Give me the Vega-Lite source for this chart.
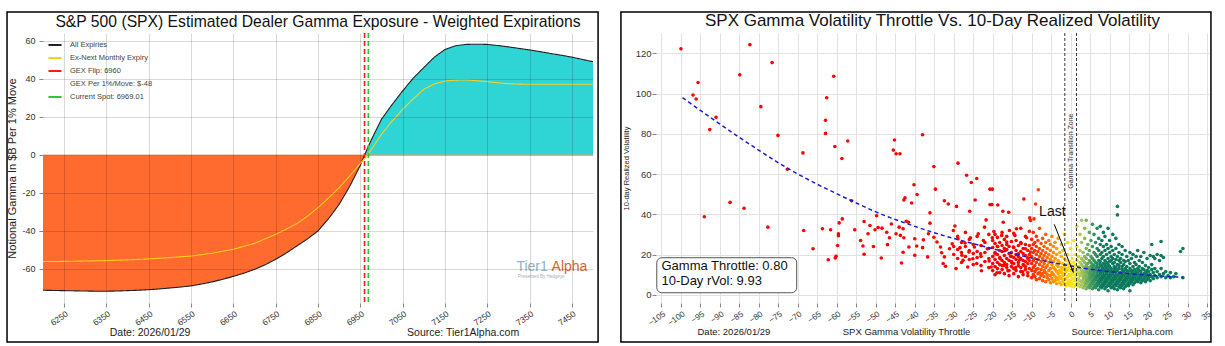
{
"$schema": "https://vega.github.io/schema/vega-lite/v6.json",
"background": "white",
"padding": {"left": 6, "top": 11, "right": 14, "bottom": 5},
"bounds": "flush",
"spacing": 63,
"config": {"font": "Liberation Sans", "view": {"stroke": null}, "axis": {"labelFont": "Liberation Sans", "titleFont": "Liberation Sans", "titleFontWeight": "normal", "labelColor": "#333", "titleColor": "#222", "tickColor": "#888", "domain": false, "labelOverlap": false}},
"datasets": {
"curves": [
{"strike":6200,"series":"All Expiries","gex":-71.2},{"strike":6225,"series":"All Expiries","gex":-71.3},{"strike":6250,"series":"All Expiries","gex":-71.4},{"strike":6275,"series":"All Expiries","gex":-71.5},{"strike":6300,"series":"All Expiries","gex":-71.6},{"strike":6325,"series":"All Expiries","gex":-71.7},{"strike":6350,"series":"All Expiries","gex":-71.7},{"strike":6375,"series":"All Expiries","gex":-71.6},{"strike":6400,"series":"All Expiries","gex":-71.4},{"strike":6425,"series":"All Expiries","gex":-71.2},{"strike":6450,"series":"All Expiries","gex":-70.9},{"strike":6475,"series":"All Expiries","gex":-70.5},{"strike":6500,"series":"All Expiries","gex":-70.0},{"strike":6525,"series":"All Expiries","gex":-69.5},{"strike":6550,"series":"All Expiries","gex":-68.9},{"strike":6575,"series":"All Expiries","gex":-67.9},{"strike":6600,"series":"All Expiries","gex":-66.8},{"strike":6625,"series":"All Expiries","gex":-65.4},{"strike":6650,"series":"All Expiries","gex":-63.9},{"strike":6675,"series":"All Expiries","gex":-62.2},{"strike":6700,"series":"All Expiries","gex":-60.2},{"strike":6725,"series":"All Expiries","gex":-57.8},{"strike":6750,"series":"All Expiries","gex":-54.9},{"strike":6775,"series":"All Expiries","gex":-51.6},{"strike":6800,"series":"All Expiries","gex":-47.9},{"strike":6825,"series":"All Expiries","gex":-44.2},{"strike":6850,"series":"All Expiries","gex":-40.0},{"strike":6875,"series":"All Expiries","gex":-33.5},{"strike":6900,"series":"All Expiries","gex":-26.0},{"strike":6925,"series":"All Expiries","gex":-16.5},{"strike":6950,"series":"All Expiries","gex":-5.5},{"strike":6960,"series":"All Expiries","gex":0},{"strike":6975,"series":"All Expiries","gex":7.5},{"strike":7000,"series":"All Expiries","gex":18.8},{"strike":7025,"series":"All Expiries","gex":26.5},{"strike":7050,"series":"All Expiries","gex":33.7},{"strike":7075,"series":"All Expiries","gex":40.4},{"strike":7100,"series":"All Expiries","gex":46.0},{"strike":7125,"series":"All Expiries","gex":51.5},{"strike":7150,"series":"All Expiries","gex":55.5},{"strike":7175,"series":"All Expiries","gex":57.5},{"strike":7200,"series":"All Expiries","gex":58.2},{"strike":7225,"series":"All Expiries","gex":58.3},{"strike":7250,"series":"All Expiries","gex":58.2},{"strike":7275,"series":"All Expiries","gex":57.6},{"strike":7300,"series":"All Expiries","gex":56.9},{"strike":7325,"series":"All Expiries","gex":56.1},{"strike":7350,"series":"All Expiries","gex":55.3},{"strike":7375,"series":"All Expiries","gex":54.4},{"strike":7400,"series":"All Expiries","gex":53.4},{"strike":7425,"series":"All Expiries","gex":52.5},{"strike":7450,"series":"All Expiries","gex":51.5},{"strike":7475,"series":"All Expiries","gex":50.3},{"strike":7500,"series":"All Expiries","gex":49.1},
{"strike":6200,"series":"Ex-Next Monthly Expiry","gex":-56.1},{"strike":6250,"series":"Ex-Next Monthly Expiry","gex":-56.0},{"strike":6300,"series":"Ex-Next Monthly Expiry","gex":-55.8},{"strike":6350,"series":"Ex-Next Monthly Expiry","gex":-55.6},{"strike":6400,"series":"Ex-Next Monthly Expiry","gex":-55.2},{"strike":6450,"series":"Ex-Next Monthly Expiry","gex":-54.7},{"strike":6500,"series":"Ex-Next Monthly Expiry","gex":-54.0},{"strike":6550,"series":"Ex-Next Monthly Expiry","gex":-53.2},{"strike":6600,"series":"Ex-Next Monthly Expiry","gex":-51.7},{"strike":6650,"series":"Ex-Next Monthly Expiry","gex":-49.6},{"strike":6700,"series":"Ex-Next Monthly Expiry","gex":-46.5},{"strike":6750,"series":"Ex-Next Monthly Expiry","gex":-41.8},{"strike":6775,"series":"Ex-Next Monthly Expiry","gex":-39.0},{"strike":6800,"series":"Ex-Next Monthly Expiry","gex":-36.1},{"strike":6825,"series":"Ex-Next Monthly Expiry","gex":-32.2},{"strike":6850,"series":"Ex-Next Monthly Expiry","gex":-27.7},{"strike":6875,"series":"Ex-Next Monthly Expiry","gex":-22.6},{"strike":6900,"series":"Ex-Next Monthly Expiry","gex":-17.2},{"strike":6925,"series":"Ex-Next Monthly Expiry","gex":-11.0},{"strike":6950,"series":"Ex-Next Monthly Expiry","gex":-4.5},{"strike":6960,"series":"Ex-Next Monthly Expiry","gex":-2.0},{"strike":6975,"series":"Ex-Next Monthly Expiry","gex":2.5},{"strike":7000,"series":"Ex-Next Monthly Expiry","gex":10.9},{"strike":7025,"series":"Ex-Next Monthly Expiry","gex":17.8},{"strike":7050,"series":"Ex-Next Monthly Expiry","gex":24.0},{"strike":7075,"series":"Ex-Next Monthly Expiry","gex":29.5},{"strike":7100,"series":"Ex-Next Monthly Expiry","gex":34.6},{"strike":7125,"series":"Ex-Next Monthly Expiry","gex":37.4},{"strike":7150,"series":"Ex-Next Monthly Expiry","gex":38.9},{"strike":7175,"series":"Ex-Next Monthly Expiry","gex":39.4},{"strike":7200,"series":"Ex-Next Monthly Expiry","gex":39.5},{"strike":7225,"series":"Ex-Next Monthly Expiry","gex":39.1},{"strike":7250,"series":"Ex-Next Monthly Expiry","gex":38.6},{"strike":7275,"series":"Ex-Next Monthly Expiry","gex":38.0},{"strike":7300,"series":"Ex-Next Monthly Expiry","gex":37.5},{"strike":7325,"series":"Ex-Next Monthly Expiry","gex":37.3},{"strike":7350,"series":"Ex-Next Monthly Expiry","gex":37.2},{"strike":7400,"series":"Ex-Next Monthly Expiry","gex":37.2},{"strike":7450,"series":"Ex-Next Monthly Expiry","gex":37.2},{"strike":7500,"series":"Ex-Next Monthly Expiry","gex":37.2}
],
"levels": [{"level":6960,"series":"GEX Flip: 6960"},{"level":6969.01,"series":"Current Spot: 6969.01"}],
"zone": [{"edge":-1.5},{"edge":1.5}],
"fit": [
{"thr":-99.6,"vol":98.0},{"thr":-95,"vol":91.6},{"thr":-90,"vol":84.8},{"thr":-85,"vol":78.2},{"thr":-80,"vol":71.8},{"thr":-75,"vol":65.6},{"thr":-70,"vol":60.0},{"thr":-65,"vol":54.9},{"thr":-60,"vol":50.2},{"thr":-55,"vol":45.6},{"thr":-50,"vol":41.2},{"thr":-45,"vol":37.4},{"thr":-40,"vol":34.0},{"thr":-35,"vol":30.8},{"thr":-30,"vol":28.0},{"thr":-25,"vol":25.4},{"thr":-20,"vol":22.9},{"thr":-15,"vol":20.5},{"thr":-10,"vol":18.2},{"thr":-5,"vol":16.1},{"thr":0,"vol":14.3},{"thr":5,"vol":12.7},{"thr":10,"vol":11.5},{"thr":15,"vol":10.5},{"thr":20,"vol":9.7},{"thr":25,"vol":9.1},{"thr":28.8,"vol":8.6}
],
"pts": [
{"thr":-100,"vol":122.3},{"thr":-82.3,"vol":124.3},{"thr":-76.6,"vol":115.4},{"thr":-84.9,"vol":109.3},{"thr":-60.8,"vol":108.6},{"thr":-95.6,"vol":105.5},{"thr":-96.9,"vol":99.3},{"thr":-96.1,"vol":97.3},{"thr":-62.6,"vol":97.9},{"thr":-79.5,"vol":93.5},{"thr":-91,"vol":88.2},{"thr":-62.9,"vol":86.7},{"thr":-92.6,"vol":82.1},{"thr":-75.1,"vol":79.2},{"thr":-62.9,"vol":80.2},{"thr":-38,"vol":79.5},{"thr":-60.5,"vol":73.7},{"thr":-57.2,"vol":76.4},{"thr":-45.2,"vol":76.9},{"thr":-45.5,"vol":71.9},{"thr":-44.8,"vol":70.1},{"thr":-43.8,"vol":70.1},{"thr":-68.7,"vol":70.5},{"thr":-58.7,"vol":67.7},{"thr":-28.9,"vol":65.4},{"thr":-72.7,"vol":62.4},{"thr":-35.1,"vol":63.7},{"thr":-26.7,"vol":59.4},{"thr":-24.1,"vol":57.8},{"thr":-25.5,"vol":55.8},{"thr":-40.2,"vol":54.7},{"thr":-34.7,"vol":52.5},{"thr":-20.7,"vol":52.5},{"thr":-20.1,"vol":52.5},{"thr":-8.3,"vol":52.2},{"thr":-39.4,"vol":49.8},{"thr":-42.5,"vol":48.2},{"thr":-42.8,"vol":47.1},{"thr":-24.5,"vol":47.1},{"thr":-12,"vol":47.6},{"thr":-56.2,"vol":46.7},{"thr":-32.4,"vol":46.7},{"thr":-87.4,"vol":45.9},{"thr":-40.8,"vol":45.6},{"thr":-31.4,"vol":45.1},{"thr":-20.7,"vol":44.8},{"thr":-20.2,"vol":44.8},{"thr":-18.7,"vol":44.6},{"thr":-9,"vol":45.1},{"thr":-29.3,"vol":43.9},{"thr":-83.8,"vol":43},{"thr":12,"vol":43.9},{"thr":12,"vol":39.7},{"thr":-94,"vol":38.8},{"thr":-17.4,"vol":41.5},{"thr":-15.9,"vol":41},{"thr":-25.9,"vol":41.5},{"thr":-36.1,"vol":40.7},{"thr":-10.5,"vol":38.2},{"thr":-9.4,"vol":37.7},{"thr":-10.3,"vol":36.9},{"thr":-49.8,"vol":39.3},{"thr":-58.6,"vol":37.7},{"thr":-59.4,"vol":35.7},{"thr":-77.7,"vol":33.6},{"thr":-68.5,"vol":31.9},{"thr":-63.7,"vol":32.8},{"thr":-61.6,"vol":32.3},{"thr":-55.4,"vol":32.3},{"thr":-59.6,"vol":30.3},{"thr":-59.6,"vol":29.3},{"thr":-53.9,"vol":27},{"thr":-59.8,"vol":24.5},{"thr":-66.1,"vol":22.9},{"thr":-62.2,"vol":17.4},{"thr":-60.2,"vol":19.1},{"thr":-60.4,"vol":18.3},{"thr":-53,"vol":20.1},{"thr":-53.3,"vol":24.2},{"thr":-50.6,"vol":24},{"thr":-48.6,"vol":18.3},{"thr":-43.4,"vol":15.8},{"thr":-43,"vol":21.1},{"thr":-40,"vol":19.6},{"thr":-36.7,"vol":18.8},{"thr":-53,"vol":36.4},{"thr":-51.5,"vol":34.4},{"thr":-50.2,"vol":32.3},{"thr":-49.4,"vol":33.4},{"thr":-48.4,"vol":33.1},{"thr":-52,"vol":30.3},{"thr":-47.2,"vol":31.1},{"thr":-46,"vol":35.2},{"thr":-46.5,"vol":28.3},{"thr":-44.8,"vol":30.3},{"thr":-44,"vol":33.6},{"thr":-43,"vol":32.8},{"thr":-42.2,"vol":36.5},{"thr":-41.6,"vol":36},{"thr":-47,"vol":24.9},{"thr":-43.7,"vol":29.5},{"thr":-42.8,"vol":28.3},{"thr":-41.5,"vol":23.7},{"thr":-40,"vol":27.8},{"thr":-39.5,"vol":24.2},{"thr":-38,"vol":23.4},{"thr":-37.8,"vol":27.3},{"thr":-36.5,"vol":30.3},{"thr":-36.1,"vol":35.6},{"thr":-35.1,"vol":28.6},{"thr":-34.3,"vol":26.2},{"thr":-33.4,"vol":23.7},{"thr":-33.1,"vol":20.9},{"thr":-32.4,"vol":18.8},{"thr":-32.7,"vol":15.5},{"thr":-32.1,"vol":14.2},{"thr":-31.1,"vol":22.9},{"thr":-30.4,"vol":25.3},{"thr":-30.1,"vol":31.9},{"thr":-29.7,"vol":34.2},{"thr":-29.4,"vol":13},{"thr":-28.9,"vol":27.8},{"thr":-28.4,"vol":23.4},{"thr":-27.9,"vol":19.6},{"thr":-27.6,"vol":17.1},{"thr":-27.1,"vol":25.7},{"thr":-26.4,"vol":13.8},{"thr":-26.1,"vol":21.2},{"thr":-25.7,"vol":28.3},{"thr":-25.1,"vol":17.9},{"thr":-24.7,"vol":23.7},{"thr":-24.1,"vol":15.5},{"thr":-23.7,"vol":30.3},{"thr":-23.1,"vol":20.4},{"thr":-22.9,"vol":11.9},{"thr":-22.4,"vol":27},{"thr":-22.1,"vol":33.6},{"thr":-21.7,"vol":37.2},{"thr":-21.4,"vol":22.9},{"thr":-20.9,"vol":16.8},{"thr":-20.4,"vol":13.8},{"thr":-20.1,"vol":28.3},{"thr":-19.7,"vol":31.4},{"thr":-19.4,"vol":20.4},{"thr":-18.9,"vol":10.9},{"thr":-18.7,"vol":24},{"thr":-18.1,"vol":17.9},{"thr":-17.7,"vol":29.5},{"thr":-17.3,"vol":36},{"thr":-17.1,"vol":14.6},{"thr":-16.7,"vol":22.1},{"thr":-16.4,"vol":26.2},{"thr":-16.1,"vol":11.9},{"thr":-15.7,"vol":31.9},{"thr":-15.4,"vol":19.1},{"thr":-15.1,"vol":15.8},{"thr":-14.7,"vol":23.7},{"thr":-14.3,"vol":29.5},{"thr":-14.1,"vol":13.5},{"thr":-13.9,"vol":32.8},{"thr":-13.4,"vol":20.4},{"thr":-13.1,"vol":17.4},{"thr":-12.7,"vol":25.5},{"thr":-12.3,"vol":11.4},{"thr":-12,"vol":14.6},{"thr":-11.6,"vol":22.9},{"thr":-11.3,"vol":28.3},{"thr":-11,"vol":18.4},{"thr":-10.6,"vol":13},{"thr":-10.3,"vol":21.2},
{"thr":-30,"vol":20},{"thr":-30,"vol":24},{"thr":-29,"vol":18},{"thr":-29,"vol":22.5},{"thr":-29,"vol":29},{"thr":-28,"vol":16},{"thr":-28,"vol":21},{"thr":-28,"vol":26},{"thr":-27,"vol":19},{"thr":-27,"vol":24},{"thr":-27,"vol":31},{"thr":-26,"vol":17.5},{"thr":-26,"vol":22},{"thr":-26,"vol":27.5},{"thr":-25,"vol":15},{"thr":-25,"vol":20.5},{"thr":-25,"vol":25},{"thr":-24,"vol":18.5},{"thr":-24,"vol":21.5},{"thr":-24,"vol":29},{"thr":-23,"vol":14.5},{"thr":-23,"vol":19},{"thr":-23,"vol":24.5},{"thr":-22,"vol":16.5},{"thr":-22,"vol":21},{"thr":-22,"vol":26},{"thr":-21,"vol":13.5},{"thr":-21,"vol":18},{"thr":-21,"vol":23},{"thr":-21,"vol":30},
{"thr":-20,"vol":12},{"thr":-20,"vol":15.5},{"thr":-20,"vol":19},{"thr":-20,"vol":23.5},{"thr":-20,"vol":27},{"thr":-19.4,"vol":10},{"thr":-19.4,"vol":14},{"thr":-19.4,"vol":17.5},{"thr":-19.4,"vol":21},{"thr":-19.4,"vol":25.5},{"thr":-19.4,"vol":30},{"thr":-18.8,"vol":13},{"thr":-18.8,"vol":16},{"thr":-18.8,"vol":20},{"thr":-18.8,"vol":24},{"thr":-18.8,"vol":28.5},{"thr":-18.2,"vol":11},{"thr":-18.2,"vol":15},{"thr":-18.2,"vol":18.5},{"thr":-18.2,"vol":22},{"thr":-18.2,"vol":26},{"thr":-17.6,"vol":12.5},{"thr":-17.6,"vol":14.5},{"thr":-17.6,"vol":17},{"thr":-17.6,"vol":21.5},{"thr":-17.6,"vol":24.5},{"thr":-17.6,"vol":31},{"thr":-17,"vol":10.5},{"thr":-17,"vol":16},{"thr":-17,"vol":19.5},{"thr":-17,"vol":23},{"thr":-17,"vol":27.5},{"thr":-16.4,"vol":13.5},{"thr":-16.4,"vol":15},{"thr":-16.4,"vol":18},{"thr":-16.4,"vol":22.5},{"thr":-16.4,"vol":25},{"thr":-16.4,"vol":29},{"thr":-15.8,"vol":9.5},{"thr":-15.8,"vol":12},{"thr":-15.8,"vol":17},{"thr":-15.8,"vol":20.5},{"thr":-15.8,"vol":24},{"thr":-15.2,"vol":14},{"thr":-15.2,"vol":16.5},{"thr":-15.2,"vol":19},{"thr":-15.2,"vol":21},{"thr":-15.2,"vol":26.5},{"thr":-14.6,"vol":10.5},{"thr":-14.6,"vol":13},{"thr":-14.6,"vol":15.5},{"thr":-14.6,"vol":18.5},{"thr":-14.6,"vol":23.5},{"thr":-14.6,"vol":30.5},{"thr":-14,"vol":12},{"thr":-14,"vol":17.5},{"thr":-14,"vol":20},{"thr":-14,"vol":22},{"thr":-14,"vol":27},{"thr":-13.4,"vol":9},{"thr":-13.4,"vol":14.5},{"thr":-13.4,"vol":16},{"thr":-13.4,"vol":19},{"thr":-13.4,"vol":24.5},{"thr":-12.8,"vol":11.5},{"thr":-12.8,"vol":13.5},{"thr":-12.8,"vol":18},{"thr":-12.8,"vol":21.5},{"thr":-12.8,"vol":26},{"thr":-12.8,"vol":33},{"thr":-12.2,"vol":10},{"thr":-12.2,"vol":15},{"thr":-12.2,"vol":17},{"thr":-12.2,"vol":20.5},{"thr":-12.2,"vol":23},{"thr":-11.6,"vol":12.5},{"thr":-11.6,"vol":14},{"thr":-11.6,"vol":16.5},{"thr":-11.6,"vol":19.5},{"thr":-11.6,"vol":25},{"thr":-11.6,"vol":29},{"thr":-11,"vol":9.5},{"thr":-11,"vol":11},{"thr":-11,"vol":15.5},{"thr":-11,"vol":18},{"thr":-11,"vol":22},{"thr":-10.6,"vol":17},{"thr":-10.6,"vol":20},{"thr":-10.6,"vol":24.5},{"thr":-10.6,"vol":31.5},
{"thr":-10,"vol":8.5},{"thr":-10,"vol":12},{"thr":-10,"vol":15.5},{"thr":-10,"vol":19},{"thr":-10,"vol":23},{"thr":-10,"vol":27.5},{"thr":-9.6,"vol":10},{"thr":-9.6,"vol":13.5},{"thr":-9.6,"vol":17},{"thr":-9.6,"vol":21},{"thr":-9.6,"vol":25},{"thr":-9.6,"vol":31},{"thr":-9.2,"vol":9},{"thr":-9.2,"vol":11.5},{"thr":-9.2,"vol":14.5},{"thr":-9.2,"vol":18},{"thr":-9.2,"vol":22},{"thr":-9.2,"vol":26},{"thr":-8.8,"vol":7.5},{"thr":-8.8,"vol":12.5},{"thr":-8.8,"vol":16},{"thr":-8.8,"vol":20},{"thr":-8.8,"vol":24},{"thr":-8.8,"vol":29},{"thr":-8.4,"vol":10.5},{"thr":-8.4,"vol":13},{"thr":-8.4,"vol":17.5},{"thr":-8.4,"vol":21.5},{"thr":-8.4,"vol":27},{"thr":-8,"vol":8},{"thr":-8,"vol":11},{"thr":-8,"vol":15},{"thr":-8,"vol":19},{"thr":-8,"vol":23},{"thr":-8,"vol":33},{"thr":-7.6,"vol":9.5},{"thr":-7.6,"vol":12.5},{"thr":-7.6,"vol":16.5},{"thr":-7.6,"vol":20.5},{"thr":-7.6,"vol":25.5},{"thr":-7.2,"vol":7},{"thr":-7.2,"vol":10.5},{"thr":-7.2,"vol":14},{"thr":-7.2,"vol":18},{"thr":-7.2,"vol":22},{"thr":-7.2,"vol":28},{"thr":-6.8,"vol":9},{"thr":-6.8,"vol":12},{"thr":-6.8,"vol":15.5},{"thr":-6.8,"vol":19.5},{"thr":-6.8,"vol":24},{"thr":-6.4,"vol":6.5},{"thr":-6.4,"vol":11},{"thr":-6.4,"vol":13.5},{"thr":-6.4,"vol":17},{"thr":-6.4,"vol":21},{"thr":-6.4,"vol":26},{"thr":-6.4,"vol":30},{"thr":-6,"vol":8.5},{"thr":-6,"vol":10},{"thr":-6,"vol":14.5},{"thr":-6,"vol":18.5},{"thr":-6,"vol":23},{"thr":-5.6,"vol":7.5},{"thr":-5.6,"vol":12},{"thr":-5.6,"vol":16},{"thr":-5.6,"vol":20},{"thr":-5.6,"vol":27},{"thr":-5.2,"vol":6},{"thr":-5.2,"vol":9.5},{"thr":-5.2,"vol":13},{"thr":-5.2,"vol":17.5},{"thr":-5.2,"vol":22},{"thr":-5.2,"vol":25},{"thr":-4.8,"vol":8},{"thr":-4.8,"vol":11},{"thr":-4.8,"vol":15},{"thr":-4.8,"vol":19},{"thr":-4.8,"vol":29},{"thr":-4.4,"vol":6.5},{"thr":-4.4,"vol":10},{"thr":-4.4,"vol":13.5},{"thr":-4.4,"vol":16.5},{"thr":-4.4,"vol":21},{"thr":-4.4,"vol":24},{"thr":-4,"vol":7},{"thr":-4,"vol":9},{"thr":-4,"vol":12.5},{"thr":-4,"vol":18},{"thr":-4,"vol":26},{"thr":-3.6,"vol":5.5},{"thr":-3.6,"vol":8.5},{"thr":-3.6,"vol":11.5},{"thr":-3.6,"vol":15},{"thr":-3.6,"vol":20},{"thr":-3.6,"vol":23},{"thr":-3.2,"vol":7.5},{"thr":-3.2,"vol":10.5},{"thr":-3.2,"vol":14},{"thr":-3.2,"vol":17},{"thr":-3.2,"vol":28},{"thr":-2.8,"vol":6},{"thr":-2.8,"vol":9},{"thr":-2.8,"vol":12},{"thr":-2.8,"vol":16},{"thr":-2.8,"vol":21},{"thr":-2.4,"vol":5},{"thr":-2.4,"vol":8},{"thr":-2.4,"vol":11},{"thr":-2.4,"vol":13.5},{"thr":-2.4,"vol":19},{"thr":-2.4,"vol":25},{"thr":-2,"vol":6.5},{"thr":-2,"vol":9.5},{"thr":-2,"vol":12.5},{"thr":-2,"vol":15.5},{"thr":-2,"vol":22},{"thr":-1.6,"vol":5.5},{"thr":-1.6,"vol":7.5},{"thr":-1.6,"vol":10.5},{"thr":-1.6,"vol":14},{"thr":-1.6,"vol":18},{"thr":-1.6,"vol":30},{"thr":-1.2,"vol":4.5},{"thr":-1.2,"vol":8},{"thr":-1.2,"vol":11.5},{"thr":-1.2,"vol":13},{"thr":-1.2,"vol":17},{"thr":-0.8,"vol":6},{"thr":-0.8,"vol":9},{"thr":-0.8,"vol":12},{"thr":-0.8,"vol":15},{"thr":-0.8,"vol":20},{"thr":-0.8,"vol":26},{"thr":-0.4,"vol":5},{"thr":-0.4,"vol":7},{"thr":-0.4,"vol":10},{"thr":-0.4,"vol":13.5},{"thr":-0.4,"vol":16.5},{"thr":0,"vol":4.5},{"thr":0,"vol":6.5},{"thr":0,"vol":9.5},{"thr":0,"vol":12},{"thr":0,"vol":15},{"thr":0,"vol":23},{"thr":0.4,"vol":5.5},{"thr":0.4,"vol":8},{"thr":0.4,"vol":11},{"thr":0.4,"vol":14},{"thr":0.4,"vol":18},{"thr":0.8,"vol":4},{"thr":0.8,"vol":7},{"thr":0.8,"vol":9.93},{"thr":0.8,"vol":13},{"thr":0.8,"vol":16},{"thr":0.8,"vol":27},{"thr":1.2,"vol":5},{"thr":1.2,"vol":8.5},{"thr":1.2,"vol":11.5},{"thr":1.2,"vol":14.5},{"thr":1.2,"vol":20},{"thr":1.6,"vol":4.5},{"thr":1.6,"vol":6.5},{"thr":1.6,"vol":10},{"thr":1.6,"vol":12.5},{"thr":1.6,"vol":17},{"thr":1.6,"vol":24},{"thr":1.6,"vol":34},{"thr":2,"vol":5.5},{"thr":2,"vol":8},{"thr":2,"vol":11},{"thr":2,"vol":14},{"thr":2,"vol":19},{"thr":2.4,"vol":4},{"thr":2.4,"vol":7},{"thr":2.4,"vol":9.5},{"thr":2.4,"vol":13},{"thr":2.4,"vol":16},{"thr":2.4,"vol":22},{"thr":2.4,"vol":30},{"thr":2.8,"vol":5},{"thr":2.8,"vol":6.5},{"thr":2.8,"vol":10.5},{"thr":2.8,"vol":12},{"thr":2.8,"vol":15},{"thr":2.8,"vol":18},{"thr":2.8,"vol":26},{"thr":2.8,"vol":37},{"thr":3.2,"vol":3.5},{"thr":3.2,"vol":7.5},{"thr":3.2,"vol":9},{"thr":3.2,"vol":11.5},{"thr":3.2,"vol":14},{"thr":3.2,"vol":17},{"thr":3.2,"vol":21},{"thr":3.6,"vol":4.5},{"thr":3.6,"vol":6},{"thr":3.6,"vol":8.5},{"thr":3.6,"vol":10.5},{"thr":3.6,"vol":13},{"thr":3.6,"vol":16},{"thr":3.6,"vol":19},{"thr":3.6,"vol":28},{"thr":3.6,"vol":33},{"thr":4,"vol":3},{"thr":4,"vol":5.5},{"thr":4,"vol":7},{"thr":4,"vol":9.5},{"thr":4,"vol":12},{"thr":4,"vol":14.5},{"thr":4,"vol":18},{"thr":4,"vol":23},{"thr":4,"vol":37},{"thr":4.4,"vol":4},{"thr":4.4,"vol":6.5},{"thr":4.4,"vol":8},{"thr":4.4,"vol":11},{"thr":4.4,"vol":13.5},{"thr":4.4,"vol":15.5},{"thr":4.4,"vol":20},{"thr":4.4,"vol":25},{"thr":4.8,"vol":3.5},{"thr":4.8,"vol":5},{"thr":4.8,"vol":7.5},{"thr":4.8,"vol":9},{"thr":4.8,"vol":10.5},{"thr":4.8,"vol":12.5},{"thr":4.8,"vol":17},{"thr":4.8,"vol":22},{"thr":4.8,"vol":31},{"thr":5.2,"vol":4.5},{"thr":5.2,"vol":6},{"thr":5.2,"vol":8.5},{"thr":5.2,"vol":10},{"thr":5.2,"vol":11.5},{"thr":5.2,"vol":14},{"thr":5.2,"vol":16},{"thr":5.2,"vol":19},{"thr":5.2,"vol":27},{"thr":5.6,"vol":3},{"thr":5.6,"vol":5.5},{"thr":5.6,"vol":7},{"thr":5.6,"vol":9.5},{"thr":5.6,"vol":12},{"thr":5.6,"vol":13.5},{"thr":5.6,"vol":15},{"thr":5.6,"vol":18},{"thr":5.6,"vol":24},{"thr":5.6,"vol":35},{"thr":6,"vol":4},{"thr":6,"vol":6.5},{"thr":6,"vol":8},{"thr":6,"vol":10.5},{"thr":6,"vol":11},{"thr":6,"vol":14.5},{"thr":6,"vol":17},{"thr":6,"vol":21},{"thr":6,"vol":30},{"thr":6.4,"vol":3.5},{"thr":6.4,"vol":5},{"thr":6.4,"vol":7.5},{"thr":6.4,"vol":9},{"thr":6.4,"vol":12.5},{"thr":6.4,"vol":13},{"thr":6.4,"vol":16},{"thr":6.4,"vol":20},{"thr":6.4,"vol":26},{"thr":6.8,"vol":4.5},{"thr":6.8,"vol":6},{"thr":6.8,"vol":8.5},{"thr":6.8,"vol":10},{"thr":6.8,"vol":11.5},{"thr":6.8,"vol":14},{"thr":6.8,"vol":15.5},{"thr":6.8,"vol":19},{"thr":6.8,"vol":23},{"thr":6.8,"vol":33},{"thr":7.2,"vol":2.5},{"thr":7.2,"vol":5.5},{"thr":7.2,"vol":7},{"thr":7.2,"vol":9.5},{"thr":7.2,"vol":12},{"thr":7.2,"vol":13.5},{"thr":7.2,"vol":17},{"thr":7.2,"vol":22},{"thr":7.2,"vol":28},{"thr":7.6,"vol":4},{"thr":7.6,"vol":6.5},{"thr":7.6,"vol":8},{"thr":7.6,"vol":10.5},{"thr":7.6,"vol":11},{"thr":7.6,"vol":15},{"thr":7.6,"vol":16.5},{"thr":7.6,"vol":20},{"thr":7.6,"vol":25},{"thr":7.6,"vol":34},{"thr":8,"vol":3.5},{"thr":8,"vol":5},{"thr":8,"vol":7.5},{"thr":8,"vol":9},{"thr":8,"vol":12.5},{"thr":8,"vol":14},{"thr":8,"vol":18},{"thr":8,"vol":21},{"thr":8,"vol":27},{"thr":8.4,"vol":4.5},{"thr":8.4,"vol":6},{"thr":8.4,"vol":8.5},{"thr":8.4,"vol":10},{"thr":8.4,"vol":11.5},{"thr":8.4,"vol":13},{"thr":8.4,"vol":15.5},{"thr":8.4,"vol":19},{"thr":8.4,"vol":24},{"thr":8.4,"vol":31},{"thr":8.8,"vol":3},{"thr":8.8,"vol":5.5},{"thr":8.8,"vol":7},{"thr":8.8,"vol":9.5},{"thr":8.8,"vol":12},{"thr":8.8,"vol":14.5},{"thr":8.8,"vol":17},{"thr":8.8,"vol":22},{"thr":8.8,"vol":29},{"thr":9.2,"vol":4},{"thr":9.2,"vol":6.5},{"thr":9.2,"vol":8},{"thr":9.2,"vol":10.5},{"thr":9.2,"vol":11},{"thr":9.2,"vol":13.5},{"thr":9.2,"vol":16},{"thr":9.2,"vol":20},{"thr":9.2,"vol":25},{"thr":9.6,"vol":2},{"thr":9.6,"vol":5},{"thr":9.6,"vol":7.5},{"thr":9.6,"vol":9},{"thr":9.6,"vol":12.5},{"thr":9.6,"vol":15},{"thr":9.6,"vol":18},{"thr":9.6,"vol":23},{"thr":9.6,"vol":33},{"thr":10,"vol":4.5},{"thr":10,"vol":6},{"thr":10,"vol":8.5},{"thr":10,"vol":10},{"thr":10,"vol":11.5},{"thr":10,"vol":14},{"thr":10,"vol":16.5},{"thr":10,"vol":21},{"thr":10,"vol":27},{"thr":10.4,"vol":3.5},{"thr":10.4,"vol":5.5},{"thr":10.4,"vol":7},{"thr":10.4,"vol":9.5},{"thr":10.4,"vol":12},{"thr":10.4,"vol":13},{"thr":10.4,"vol":17},{"thr":10.4,"vol":19},{"thr":10.4,"vol":24},{"thr":10.8,"vol":4},{"thr":10.8,"vol":6.5},{"thr":10.8,"vol":8},{"thr":10.8,"vol":10.5},{"thr":10.8,"vol":11},{"thr":10.8,"vol":15.5},{"thr":10.8,"vol":18},{"thr":10.8,"vol":22},{"thr":10.8,"vol":30},{"thr":11.2,"vol":3},{"thr":11.2,"vol":5},{"thr":11.2,"vol":7.5},{"thr":11.2,"vol":9},{"thr":11.2,"vol":12.5},{"thr":11.2,"vol":14},{"thr":11.2,"vol":16},{"thr":11.2,"vol":20},{"thr":11.6,"vol":4.5},{"thr":11.6,"vol":6},{"thr":11.6,"vol":8.5},{"thr":11.6,"vol":10},{"thr":11.6,"vol":11.5},{"thr":11.6,"vol":13.5},{"thr":11.6,"vol":17.5},{"thr":11.6,"vol":23},{"thr":11.6,"vol":28},{"thr":12,"vol":2.5},{"thr":12,"vol":5.5},{"thr":12,"vol":7},{"thr":12,"vol":9.5},{"thr":12,"vol":12},{"thr":12,"vol":15},{"thr":12,"vol":19},{"thr":12.4,"vol":4},{"thr":12.4,"vol":6.5},{"thr":12.4,"vol":8},{"thr":12.4,"vol":10.5},{"thr":12.4,"vol":13},{"thr":12.4,"vol":14.5},{"thr":12.4,"vol":17},{"thr":12.4,"vol":21},{"thr":12.4,"vol":25},{"thr":12.8,"vol":3.5},{"thr":12.8,"vol":5},{"thr":12.8,"vol":7.5},{"thr":12.8,"vol":9},{"thr":12.8,"vol":11},{"thr":12.8,"vol":16},{"thr":12.8,"vol":18},{"thr":13.2,"vol":4.5},{"thr":13.2,"vol":6},{"thr":13.2,"vol":8.5},{"thr":13.2,"vol":10},{"thr":13.2,"vol":12.5},{"thr":13.2,"vol":14},{"thr":13.2,"vol":20},{"thr":13.2,"vol":24},{"thr":13.6,"vol":3},{"thr":13.6,"vol":5.5},{"thr":13.6,"vol":7},{"thr":13.6,"vol":9.5},{"thr":13.6,"vol":11.5},{"thr":13.6,"vol":15},{"thr":13.6,"vol":17},{"thr":14,"vol":4},{"thr":14,"vol":6.5},{"thr":14,"vol":8},{"thr":14,"vol":10.5},{"thr":14,"vol":13},{"thr":14,"vol":16.5},{"thr":14,"vol":22},{"thr":14.4,"vol":5},{"thr":14.4,"vol":7.5},{"thr":14.4,"vol":9},{"thr":14.4,"vol":12},{"thr":14.4,"vol":14},{"thr":14.4,"vol":19},{"thr":14.8,"vol":4.5},{"thr":14.8,"vol":6},{"thr":14.8,"vol":8.5},{"thr":14.8,"vol":10},{"thr":14.8,"vol":11.5},{"thr":14.8,"vol":17},{"thr":15.2,"vol":2},{"thr":15.2,"vol":5.5},{"thr":15.2,"vol":7},{"thr":15.2,"vol":9.5},{"thr":15.2,"vol":13},{"thr":15.2,"vol":15.5},{"thr":15.2,"vol":21},{"thr":15.6,"vol":6.5},{"thr":15.6,"vol":8},{"thr":15.6,"vol":10.5},{"thr":15.6,"vol":12},{"thr":15.6,"vol":18},{"thr":16,"vol":5},{"thr":16,"vol":7.5},{"thr":16,"vol":9},{"thr":16,"vol":11},{"thr":16,"vol":14},{"thr":16,"vol":20},{"thr":16.4,"vol":6},{"thr":16.4,"vol":8.5},{"thr":16.4,"vol":10},{"thr":16.4,"vol":12.5},{"thr":16.4,"vol":16},{"thr":16.8,"vol":7},{"thr":16.8,"vol":9.5},{"thr":16.8,"vol":11.5},{"thr":16.8,"vol":15},{"thr":16.8,"vol":19},{"thr":17.2,"vol":6.5},{"thr":17.2,"vol":8},{"thr":17.2,"vol":10.5},{"thr":17.2,"vol":13},{"thr":17.2,"vol":22},{"thr":17.6,"vol":7.5},{"thr":17.6,"vol":9},{"thr":17.6,"vol":12},{"thr":17.6,"vol":14},{"thr":17.6,"vol":17},{"thr":18,"vol":6},{"thr":18,"vol":8.5},{"thr":18,"vol":10},{"thr":18,"vol":11.5},{"thr":18,"vol":19},{"thr":18.4,"vol":7},{"thr":18.4,"vol":9.5},{"thr":18.4,"vol":13},{"thr":18.4,"vol":16},{"thr":18.8,"vol":8},{"thr":18.8,"vol":10.5},{"thr":18.8,"vol":12.5},{"thr":18.8,"vol":21},{"thr":19.2,"vol":6.5},{"thr":19.2,"vol":9},{"thr":19.2,"vol":11},{"thr":19.2,"vol":14.5},{"thr":19.6,"vol":7.5},{"thr":19.6,"vol":10},{"thr":19.6,"vol":12},{"thr":19.6,"vol":18},{"thr":20,"vol":8.5},{"thr":20,"vol":11.5},{"thr":20,"vol":13.5},{"thr":20.4,"vol":7},{"thr":20.4,"vol":10},{"thr":20.4,"vol":19.5},{"thr":20.8,"vol":9},{"thr":20.8,"vol":12.5},{"thr":20.8,"vol":15},{"thr":20.8,"vol":25},{"thr":21.2,"vol":8},{"thr":21.2,"vol":11},{"thr":21.2,"vol":19},{"thr":21.6,"vol":9.5},{"thr":21.6,"vol":13},{"thr":21.6,"vol":18},{"thr":22.2,"vol":8.5},{"thr":22.2,"vol":11.5},{"thr":22.2,"vol":20},{"thr":22.8,"vol":10},{"thr":22.8,"vol":17},{"thr":23.2,"vol":9},{"thr":23.2,"vol":13},{"thr":23.2,"vol":19.5},{"thr":23.2,"vol":26.5},{"thr":23.8,"vol":10.5},{"thr":23.8,"vol":18.5},{"thr":24.4,"vol":8.5},{"thr":24.4,"vol":11.5},{"thr":25,"vol":9.5},{"thr":25.6,"vol":8.5},{"thr":25.6,"vol":11},{"thr":26.4,"vol":9},{"thr":27,"vol":10.5},{"thr":28.2,"vol":21.5},{"thr":28.8,"vol":23},{"thr":28.8,"vol":8.5}
]
},
"hconcat": [
{
"width": 550, "height": 270,
"title": {"text": "S&P 500 (SPX) Estimated Dealer Gamma Exposure - Weighted Expirations", "fontSize": 15.7, "fontWeight": "normal", "font": "Liberation Sans", "color": "#111", "offset": -19, "anchor": "middle", "frame": "group"},
"layer": [
{"data": {"name": "curves"}, "transform": [{"filter": "datum.series == 'All Expiries' && datum.strike <= 6960"}],
 "mark": {"type": "area", "color": "#ff6a2e", "opacity": 1},
 "encoding": {
  "x": {"field": "strike", "type": "quantitative", "scale": {"domain": [6200, 7500], "nice": false, "zero": false},
        "axis": {"values": [6250,6350,6450,6550,6650,6750,6850,6950,7050,7150,7250,7350,7450], "format": "d", "labelAngle": -35, "labelFontSize": 8.5, "labelPadding": 2, "labelOverlap": false, "tickSize": 4, "grid": true, "gridColor": "#000", "gridOpacity": 0.15, "title": null, "zindex": 1}},
  "y": {"field": "gex", "type": "quantitative", "scale": {"domain": [-77.9, 64.2], "nice": false, "zero": false},
        "axis": {"values": [-60,-40,-20,0,20,40,60], "labelExpr": "replace(datum.label, '−', '-')", "labelFontSize": 9, "labelPadding": 4, "labelOverlap": false, "tickSize": 4, "grid": true, "gridColor": "#000", "gridOpacity": 0.15, "title": "Notional Gamma In $B Per 1% Move", "titleFontSize": 11, "titlePadding": 4, "zindex": 1}},
  "y2": {"datum": 0}}},
{"data": {"name": "curves"}, "transform": [{"filter": "datum.series == 'All Expiries' && datum.strike >= 6960"}],
 "mark": {"type": "area", "color": "#2fd4d4", "opacity": 1},
 "encoding": {"x": {"field": "strike", "type": "quantitative"}, "y": {"field": "gex", "type": "quantitative"}, "y2": {"datum": 0}}},
{"data": {"values": [{}]}, "mark": {"type": "rule", "color": "#e8a070", "strokeWidth": 1},
 "encoding": {"y": {"datum": 0, "type": "quantitative"}}},
{"data": {"name": "curves"},
 "mark": {"type": "line", "strokeWidth": 1.1},
 "encoding": {
  "x": {"field": "strike", "type": "quantitative"}, "y": {"field": "gex", "type": "quantitative"},
  "color": {"field": "series", "type": "nominal",
    "scale": {"domain": ["All Expiries","Ex-Next Monthly Expiry","GEX Flip: 6960","GEX Per 1%/Move: $-48","Current Spot: 6969.01"], "range": ["#222222","#ffcf1f","#ff1a1a","rgba(0,0,0,0)","#33c433"]},
    "legend": {"title": null, "orient": "top-left", "offset": 4, "padding": 0, "symbolType": "stroke", "symbolSize": 170, "symbolStrokeWidth": 2, "symbolOpacity": 1, "labelFontSize": 7.5, "labelFont": "Liberation Sans", "labelColor": "#444", "rowPadding": 1, "labelOffset": 7}},
  "strokeDash": {"field": "series", "type": "nominal",
    "scale": {"domain": ["All Expiries","Ex-Next Monthly Expiry","GEX Flip: 6960","GEX Per 1%/Move: $-48","Current Spot: 6969.01"], "range": [[1,0],[1,0],[5,3],[1,0],[5,3]]},
    "legend": null}}},
{"data": {"name": "levels"},
 "mark": {"type": "rule", "strokeWidth": 1.6},
 "encoding": {"x": {"field": "level", "type": "quantitative"}, "color": {"field": "series", "type": "nominal"}, "strokeDash": {"field": "series", "type": "nominal", "legend": null}}},
{"data": {"values": [{}]}, "mark": {"type": "text", "align": "left", "baseline": "alphabetic", "fontSize": 14, "color": "#8fb4c8"},
 "encoding": {"x": {"datum": 7319, "type": "quantitative"}, "y": {"datum": -61.1, "type": "quantitative"}, "text": {"value": "Tier1"}}},
{"data": {"values": [{}]}, "mark": {"type": "text", "align": "left", "baseline": "alphabetic", "fontSize": 14, "color": "#d9623a"},
 "encoding": {"x": {"datum": 7402, "type": "quantitative"}, "y": {"datum": -61.1, "type": "quantitative"}, "text": {"value": "Alpha"}}},
{"data": {"values": [{}]}, "mark": {"type": "text", "align": "left", "baseline": "alphabetic", "fontSize": 4.5, "color": "#9fb3c3"},
 "encoding": {"x": {"datum": 7323, "type": "quantitative"}, "y": {"datum": -64.5, "type": "quantitative"}, "text": {"value": "Presented By Hedgeye"}}},
{"data": {"values": [{}]}, "mark": {"type": "text", "align": "center", "baseline": "alphabetic", "fontSize": 10.5, "color": "#222"},
 "encoding": {"x": {"datum": 6453, "type": "quantitative"}, "y": {"datum": -95.3, "type": "quantitative"}, "text": {"value": "Date: 2026/01/29"}}},
{"data": {"values": [{}]}, "mark": {"type": "text", "align": "center", "baseline": "alphabetic", "fontSize": 10.5, "color": "#222"},
 "encoding": {"x": {"datum": 7193, "type": "quantitative"}, "y": {"datum": -95.3, "type": "quantitative"}, "text": {"value": "Source: Tier1Alpha.com"}}},
{"data": {"values": [{}]}, "mark": {"type": "rect", "filled": false, "stroke": "#000", "strokeWidth": 1.5},
 "encoding": {"x": {"datum": 6115, "type": "quantitative"}, "x2": {"datum": 7512}, "y": {"datum": 75.25, "type": "quantitative"}, "y2": {"datum": -98.4}}}
]
},
{
"width": 553, "height": 270,
"title": {"text": "SPX Gamma Volatility Throttle Vs. 10-Day Realized Volatility", "fontSize": 17, "fontWeight": "normal", "font": "Liberation Sans", "color": "#111", "offset": -19, "anchor": "middle", "frame": "group"},
"layer": [
{"data": {"name": "pts"},
 "mark": {"type": "circle", "size": 13, "opacity": 1},
 "encoding": {
  "x": {"field": "thr", "type": "quantitative", "scale": {"domain": [-106.4, 35.5], "nice": false, "zero": false},
        "axis": {"values": [-105,-100,-95,-90,-85,-80,-75,-70,-65,-60,-55,-50,-45,-40,-35,-30,-25,-20,-15,-10,-5,0,5,10,15,20,25,30,35], "labelAngle": -35, "labelFontSize": 8.3, "labelPadding": 2, "labelOverlap": false, "labelBound": false, "tickSize": 4, "grid": true, "gridColor": "#e2e2e2", "title": null}},
  "y": {"field": "vol", "type": "quantitative", "scale": {"domain": [-4.1, 130.1], "nice": false, "zero": false},
        "axis": {"values": [0,20,40,60,80,100,120], "labelFontSize": 9.5, "labelPadding": 1, "labelOverlap": false, "tickSize": 4, "grid": true, "gridColor": "#e2e2e2", "title": "10-day Realized Volatility", "titleFontSize": 7.5, "titlePadding": 5}},
  "color": {"field": "thr", "type": "quantitative", "legend": null,
    "scale": {"domain": [-12,-7,-3.5,-1,1,3,5.5,8], "range": ["#ff0000","#ff5a00","#ffa000","#ffd800","#f2e62a","#9cc45a","#3f9860","#0c7a5c"], "interpolate": "rgb", "clamp": true}}}},
{"data": {"name": "fit"},
 "mark": {"type": "line", "color": "#1a1ad0", "strokeDash": [4,3], "strokeWidth": 1.5, "interpolate": "monotone"},
 "encoding": {"x": {"field": "thr", "type": "quantitative", "axis": {"values": [-105,-100,-95,-90,-85,-80,-75,-70,-65,-60,-55,-50,-45,-40,-35,-30,-25,-20,-15,-10,-5,0,5,10,15,20,25,30,35], "labelAngle": -35, "labelFontSize": 8.3, "labelPadding": 2, "labelOverlap": false, "labelBound": false, "tickSize": 4, "grid": true, "gridColor": "#e2e2e2", "title": null}}, "y": {"field": "vol", "type": "quantitative"}}},
{"data": {"name": "zone"},
 "mark": {"type": "rule", "color": "#222", "strokeDash": [3,2], "strokeWidth": 0.9},
 "encoding": {"x": {"field": "edge", "type": "quantitative", "axis": {"values": [-105,-100,-95,-90,-85,-80,-75,-70,-65,-60,-55,-50,-45,-40,-35,-30,-25,-20,-15,-10,-5,0,5,10,15,20,25,30,35], "labelAngle": -35, "labelFontSize": 8.3, "labelPadding": 2, "labelOverlap": false, "labelBound": false, "tickSize": 4, "grid": true, "gridColor": "#e2e2e2", "title": null}}}},
{"data": {"values": [{}]}, "mark": {"type": "text", "angle": 270, "align": "center", "baseline": "middle", "fontSize": 7, "color": "#333"},
 "encoding": {"x": {"datum": 0, "type": "quantitative", "axis": {"values": [-105,-100,-95,-90,-85,-80,-75,-70,-65,-60,-55,-50,-45,-40,-35,-30,-25,-20,-15,-10,-5,0,5,10,15,20,25,30,35], "labelAngle": -35, "labelFontSize": 8.3, "labelPadding": 2, "labelOverlap": false, "labelBound": false, "tickSize": 4, "grid": true, "gridColor": "#e2e2e2", "title": null}}, "y": {"datum": 71.4, "type": "quantitative"}, "text": {"value": "Gamma Transition Zone"}}},
{"data": {"values": [{}]}, "mark": {"type": "rule", "color": "#000", "strokeWidth": 1},
 "encoding": {"x": {"datum": -4.2, "type": "quantitative", "axis": {"values": [-105,-100,-95,-90,-85,-80,-75,-70,-65,-60,-55,-50,-45,-40,-35,-30,-25,-20,-15,-10,-5,0,5,10,15,20,25,30,35], "labelAngle": -35, "labelFontSize": 8.3, "labelPadding": 2, "labelOverlap": false, "labelBound": false, "tickSize": 4, "grid": true, "gridColor": "#e2e2e2", "title": null}}, "y": {"datum": 35, "type": "quantitative"}, "x2": {"datum": 0.7}, "y2": {"datum": 11}}},
{"data": {"values": [{}]}, "mark": {"type": "point", "shape": "triangle-down", "filled": true, "color": "#000", "size": 18, "angle": 339},
 "encoding": {"x": {"datum": 0.55, "type": "quantitative", "axis": {"values": [-105,-100,-95,-90,-85,-80,-75,-70,-65,-60,-55,-50,-45,-40,-35,-30,-25,-20,-15,-10,-5,0,5,10,15,20,25,30,35], "labelAngle": -35, "labelFontSize": 8.3, "labelPadding": 2, "labelOverlap": false, "labelBound": false, "tickSize": 4, "grid": true, "gridColor": "#e2e2e2", "title": null}}, "y": {"datum": 12.2, "type": "quantitative"}}},
{"data": {"values": [{}]}, "mark": {"type": "text", "align": "center", "baseline": "alphabetic", "fontSize": 14, "color": "#111"},
 "encoding": {"x": {"datum": -4.7, "type": "quantitative", "axis": {"values": [-105,-100,-95,-90,-85,-80,-75,-70,-65,-60,-55,-50,-45,-40,-35,-30,-25,-20,-15,-10,-5,0,5,10,15,20,25,30,35], "labelAngle": -35, "labelFontSize": 8.3, "labelPadding": 2, "labelOverlap": false, "labelBound": false, "tickSize": 4, "grid": true, "gridColor": "#e2e2e2", "title": null}}, "y": {"datum": 39.1, "type": "quantitative"}, "text": {"value": "Last"}}},
{"data": {"values": [{}]}, "mark": {"type": "rect", "fill": "#ffffff", "stroke": "#555", "strokeWidth": 1, "cornerRadius": 5},
 "encoding": {"x": {"datum": -106.2, "type": "quantitative", "axis": {"values": [-105,-100,-95,-90,-85,-80,-75,-70,-65,-60,-55,-50,-45,-40,-35,-30,-25,-20,-15,-10,-5,0,5,10,15,20,25,30,35], "labelAngle": -35, "labelFontSize": 8.3, "labelPadding": 2, "labelOverlap": false, "labelBound": false, "tickSize": 4, "grid": true, "gridColor": "#e2e2e2", "title": null}}, "x2": {"datum": -70.3}, "y": {"datum": 18.4, "type": "quantitative"}, "y2": {"datum": 1.0}}},
{"data": {"values": [{}]}, "mark": {"type": "text", "align": "left", "baseline": "alphabetic", "fontSize": 13, "color": "#111"},
 "encoding": {"x": {"datum": -105.0, "type": "quantitative", "axis": {"values": [-105,-100,-95,-90,-85,-80,-75,-70,-65,-60,-55,-50,-45,-40,-35,-30,-25,-20,-15,-10,-5,0,5,10,15,20,25,30,35], "labelAngle": -35, "labelFontSize": 8.3, "labelPadding": 2, "labelOverlap": false, "labelBound": false, "tickSize": 4, "grid": true, "gridColor": "#e2e2e2", "title": null}}, "y": {"datum": 12.2, "type": "quantitative"}, "text": {"value": "Gamma Throttle: 0.80"}}},
{"data": {"values": [{}]}, "mark": {"type": "text", "align": "left", "baseline": "alphabetic", "fontSize": 13, "color": "#111"},
 "encoding": {"x": {"datum": -105.0, "type": "quantitative", "axis": {"values": [-105,-100,-95,-90,-85,-80,-75,-70,-65,-60,-55,-50,-45,-40,-35,-30,-25,-20,-15,-10,-5,0,5,10,15,20,25,30,35], "labelAngle": -35, "labelFontSize": 8.3, "labelPadding": 2, "labelOverlap": false, "labelBound": false, "tickSize": 4, "grid": true, "gridColor": "#e2e2e2", "title": null}}, "y": {"datum": 4.8, "type": "quantitative"}, "text": {"value": "10-Day rVol: 9.93"}}},
{"data": {"values": [{}]}, "mark": {"type": "text", "align": "center", "baseline": "alphabetic", "fontSize": 9.5, "color": "#222"},
 "encoding": {"x": {"datum": -86.4, "type": "quantitative", "axis": {"values": [-105,-100,-95,-90,-85,-80,-75,-70,-65,-60,-55,-50,-45,-40,-35,-30,-25,-20,-15,-10,-5,0,5,10,15,20,25,30,35], "labelAngle": -35, "labelFontSize": 8.3, "labelPadding": 2, "labelOverlap": false, "labelBound": false, "tickSize": 4, "grid": true, "gridColor": "#e2e2e2", "title": null}}, "y": {"datum": -19.8, "type": "quantitative"}, "text": {"value": "Date: 2026/01/29"}}},
{"data": {"values": [{}]}, "mark": {"type": "text", "align": "center", "baseline": "alphabetic", "fontSize": 9.5, "color": "#222"},
 "encoding": {"x": {"datum": -42.1, "type": "quantitative", "axis": {"values": [-105,-100,-95,-90,-85,-80,-75,-70,-65,-60,-55,-50,-45,-40,-35,-30,-25,-20,-15,-10,-5,0,5,10,15,20,25,30,35], "labelAngle": -35, "labelFontSize": 8.3, "labelPadding": 2, "labelOverlap": false, "labelBound": false, "tickSize": 4, "grid": true, "gridColor": "#e2e2e2", "title": null}}, "y": {"datum": -19.8, "type": "quantitative"}, "text": {"value": "SPX Gamma Volatility Throttle"}}},
{"data": {"values": [{}]}, "mark": {"type": "text", "align": "center", "baseline": "alphabetic", "fontSize": 9.5, "color": "#222"},
 "encoding": {"x": {"datum": 13.2, "type": "quantitative", "axis": {"values": [-105,-100,-95,-90,-85,-80,-75,-70,-65,-60,-55,-50,-45,-40,-35,-30,-25,-20,-15,-10,-5,0,5,10,15,20,25,30,35], "labelAngle": -35, "labelFontSize": 8.3, "labelPadding": 2, "labelOverlap": false, "labelBound": false, "tickSize": 4, "grid": true, "gridColor": "#e2e2e2", "title": null}}, "y": {"datum": -19.8, "type": "quantitative"}, "text": {"value": "Source: Tier1Alpha.com"}}},
{"data": {"values": [{}]}, "mark": {"type": "rect", "filled": false, "stroke": "#000", "strokeWidth": 1.5},
 "encoding": {"x": {"datum": -115.4, "type": "quantitative", "axis": {"values": [-105,-100,-95,-90,-85,-80,-75,-70,-65,-60,-55,-50,-45,-40,-35,-30,-25,-20,-15,-10,-5,0,5,10,15,20,25,30,35], "labelAngle": -35, "labelFontSize": 8.3, "labelPadding": 2, "labelOverlap": false, "labelBound": false, "tickSize": 4, "grid": true, "gridColor": "#e2e2e2", "title": null}}, "x2": {"datum": 36.0}, "y": {"datum": 140.5, "type": "quantitative"}, "y2": {"datum": -23.5}}}
]
}
]
}
